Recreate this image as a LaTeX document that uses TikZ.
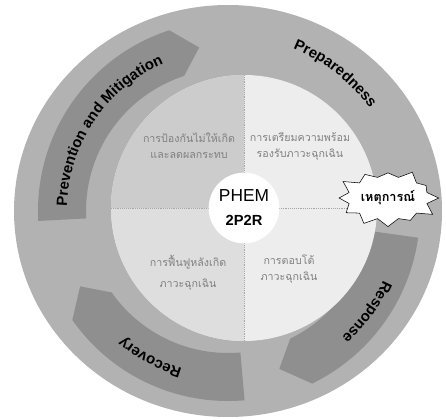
\documentclass[tikz,border=0pt]{standalone}
\usepackage{fontspec}
\setmainfont{Liberation Sans}
\newfontfamily\thaifont[Script=Thai]{Loma}
\usepackage{xcolor}
\usepackage{tikz}
\usetikzlibrary{positioning, calc, decorations.text, shapes.symbols}
\newcommand\phasefont{\fontsize{11.2}{12}\selectfont\bfseries}
\definecolor{ringgray}{gray}{0.70}
\definecolor{bandgray}{gray}{0.56}
\definecolor{diskgray}{gray}{0.93}
\definecolor{quadgray}{gray}{0.80}
\definecolor{lowgray}{gray}{0.87}
\tikzset{
    ring/.style={
        fill=ringgray,
        draw=none
    },
    band/.style={
        fill=bandgray,
        draw=none
    },
    phase/.style={
        decorate,
        decoration={
            text along path,
            text align=center,
            text={|\phasefont|#1}
        }
    },
    divider/.style={
        draw=black!35,
        densely dotted,
        line width=0.4pt
    },
    thaitext/.style={
        font=\thaifont\fontsize{8}{12}\selectfont,
        text=black!50,
        align=center,
        inner sep=0pt
    },
    hub/.style={
        circle,
        fill=white,
        draw=none,
        minimum size=53pt
    },
    burst/.style={
        starburst,
        starburst points=12,
        starburst point height=9pt,
        random starburst=3,
        draw=black,
        thin,
        fill=white,
        minimum width=52pt,
        minimum height=50pt,
        inner sep=1pt,
        font=\thaifont\bfseries\fontsize{9.5}{10}\selectfont
    }
}
\begin{document}
\begin{tikzpicture}[x=0.75pt, y=0.75pt]
\useasboundingbox (0,0) rectangle (446,419);
\coordinate (O) at (228,208);
\coordinate (I) at (244,211);

% outer ring
\fill[ring] (O) ellipse[x radius=214, y radius=206];

% arrows in the ring
\begin{scope}[shift={(O)}]
\fill[band] (183:190) arc[start angle=183, end angle=108, radius=190] -- (100:166) -- (108:142) arc[start angle=108, end angle=183, radius=142] -- cycle;
\fill[band] (-8:192) arc[start angle=-8, end angle=-64, radius=192] -- (-72:166) -- (-64:142) arc[start angle=-64, end angle=-8, radius=142] -- cycle;
\fill[band] (275:190) arc[start angle=275, end angle=215, radius=190] -- (207:166) -- (215:142) arc[start angle=215, end angle=275, radius=142] -- cycle;
\end{scope}

% inner disk and quadrants
\fill[diskgray] (I) circle[radius=133];
\fill[quadgray] (I) -- ++(0,133) arc[start angle=90, end angle=180, radius=133] -- cycle;
\fill[lowgray] (I) -- ++(-133,0) arc[start angle=180, end angle=270, radius=133] -- cycle;
\draw[divider] ($(I)+(0,133)$) -- ($(I)+(0,-133)$);
\draw[divider] ($(I)+(-133,0)$) -- ($(I)+(133,0)$);

% phase names
\begin{scope}[shift={(O)}]
\path[phase={Prevention and Mitigation}] (200:161) arc[start angle=200, end angle=92, radius=161];
\path[phase={Preparedness}] (90:175) arc[start angle=90, end angle=14, radius=175];
\path[phase={Response}] (-4:170) arc[start angle=-4, end angle=-68, radius=170];
\path[phase={Recovery}] (274:164) arc[start angle=274, end angle=210, radius=164];
\end{scope}

% quadrant texts
\node[thaitext] (prevent) at (189,273) {การป้องกันไม่ให้เกิด\\และลดผลกระทบ};
\node[thaitext] (prepare) at (300,273) {การเตรียมความพร้อม\\รองรับภาวะฉุกเฉิน};
\node[thaitext] (recover) at (188,146) {การฟื้นฟูหลังเกิด\\[4pt]ภาวะฉุกเฉิน};
\node[thaitext] (respond) at (289,150) {การตอบโต้\\ภาวะฉุกเฉิน};

% centre
\node[hub] (hub) at (I) {};
\node[font=\fontsize{13}{13}\selectfont] (phem) at ($(hub)+(0,12)$) {PHEM};
\node[font=\fontsize{11}{11}\selectfont\bfseries] (ppr) at ($(hub)+(0,-12)$) {2P2R};

% event
\node[burst] (event) at (388,221) {เหตุการณ์};

\end{tikzpicture}
\end{document}
